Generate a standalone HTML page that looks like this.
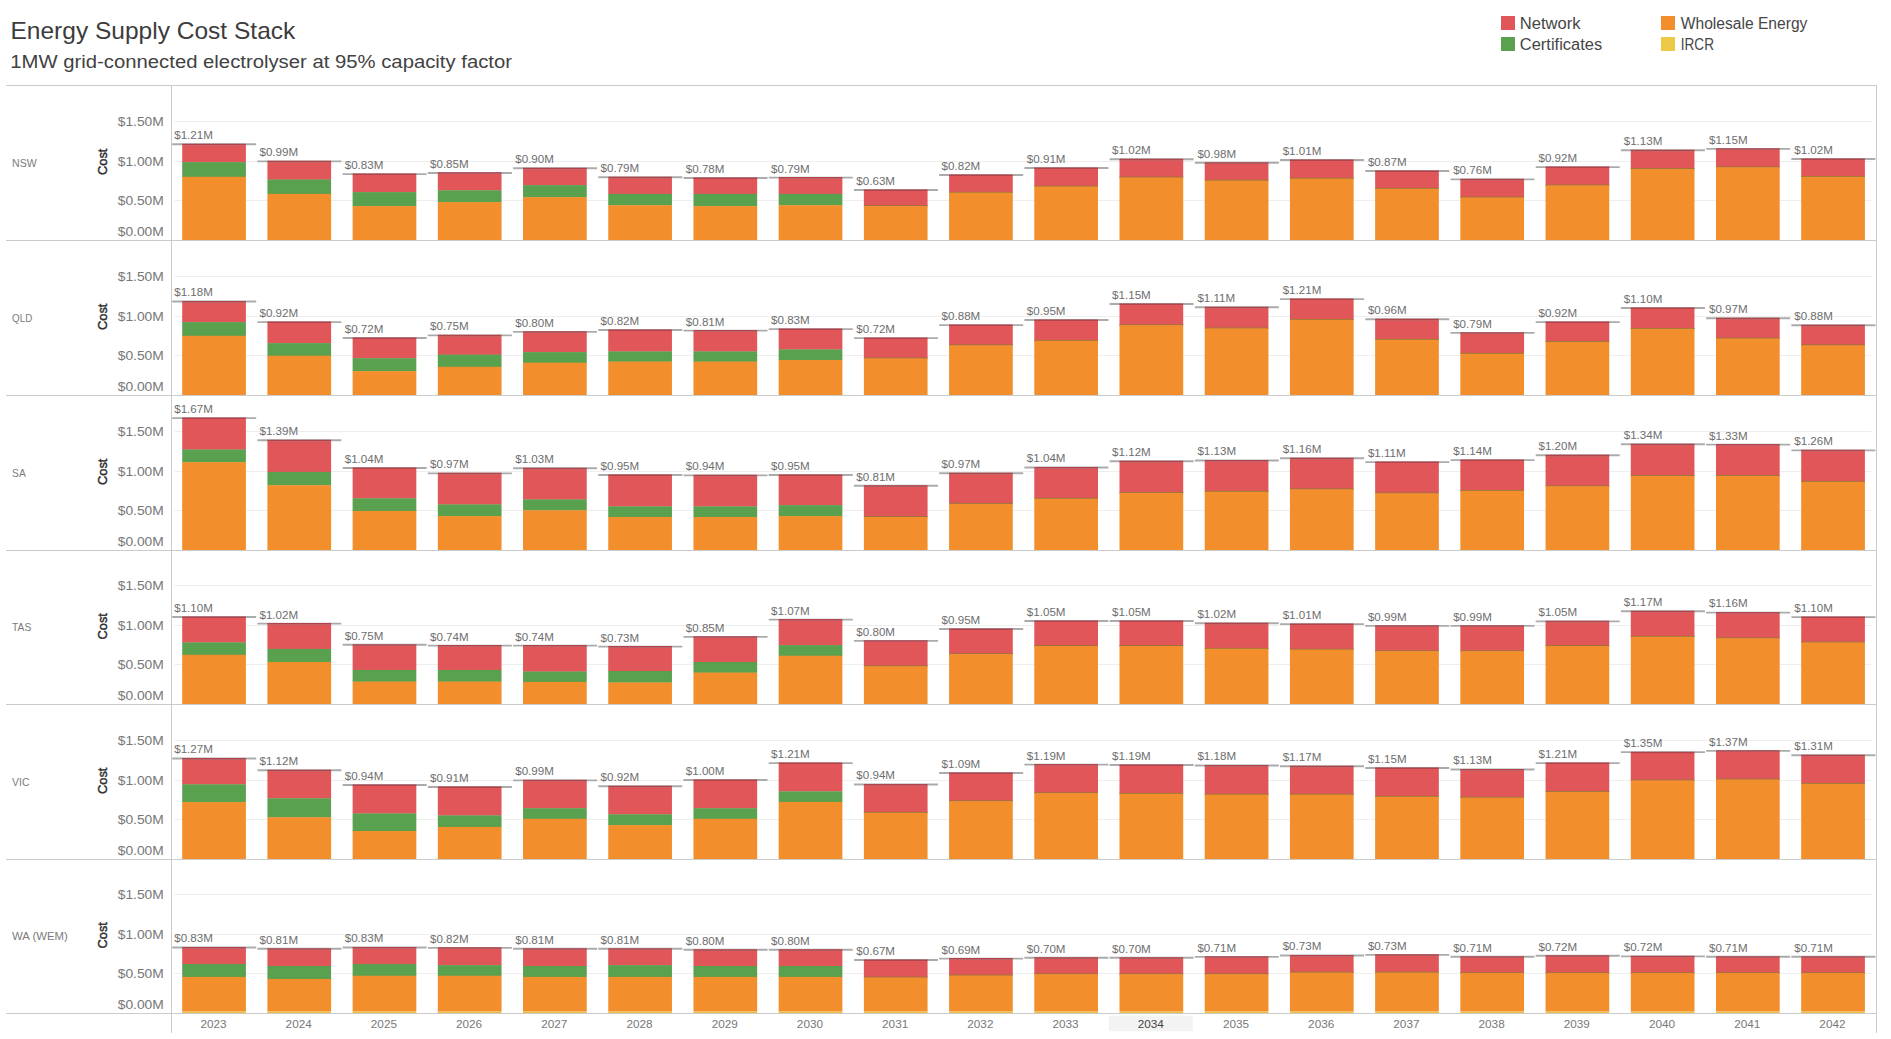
<!DOCTYPE html>
<html lang="en"><head><meta charset="utf-8"><title>Energy Supply Cost Stack</title>
<style>
html,body{margin:0;padding:0;background:#fff;}
body{width:1891px;height:1039px;overflow:hidden;}
svg{display:block;font-family:"Liberation Sans",sans-serif;}
.tick{font-size:13px;fill:#787878;text-anchor:end;}
.lbl{font-size:11.6px;fill:#6e6e6e;}
.row{font-size:10.8px;fill:#7b7b7b;}
.yr{font-size:10.6px;fill:#787878;text-anchor:middle;}
.cost{font-size:13px;fill:#2e2e2e;stroke:#2e2e2e;stroke-width:0.45px;text-anchor:middle;}
.leg{font-size:15.6px;fill:#464646;}
</style></head><body>
<svg width="1891" height="1039" viewBox="0 0 1891 1039">
<rect x="0" y="0" width="1891" height="1039" fill="#ffffff"/>
<g transform="translate(10.5,38.7) scale(1.0575,1)"><text x="0" y="0" font-size="23.2" fill="#3c3c3c">Energy Supply Cost Stack</text></g>
<g transform="translate(10.3,67.5) scale(1.160,1)"><text x="0" y="0" font-size="17.5" fill="#424242">1MW grid-connected electrolyser at 95% capacity factor</text></g>
<rect x="1501" y="16" width="14" height="14" fill="#e15759"/>
<g transform="translate(1519.8,29) scale(1.064,1)"><text class="leg" x="0" y="0">Network</text></g>
<rect x="1501" y="37" width="14" height="14" fill="#59a14f"/>
<g transform="translate(1519.8,50) scale(1.056,1)"><text class="leg" x="0" y="0">Certificates</text></g>
<rect x="1661" y="16" width="14" height="14" fill="#f28e2b"/>
<g transform="translate(1680.8,29) scale(1.0,1)"><text class="leg" x="0" y="0">Wholesale Energy</text></g>
<rect x="1661" y="37" width="14" height="14" fill="#edc948"/>
<g transform="translate(1680.8,50) scale(0.87,1)"><text class="leg" x="0" y="0">IRCR</text></g>
<g stroke="#cbcbcb" stroke-width="1" fill="none">
<line x1="6" y1="85.5" x2="1876.7" y2="85.5"/>
<line x1="6" y1="240.5" x2="1876.7" y2="240.5"/>
<line x1="6" y1="395.5" x2="1876.7" y2="395.5"/>
<line x1="6" y1="550.5" x2="1876.7" y2="550.5"/>
<line x1="6" y1="704.5" x2="1876.7" y2="704.5"/>
<line x1="6" y1="859.5" x2="1876.7" y2="859.5"/>
<line x1="6" y1="1013.5" x2="1876.7" y2="1013.5"/>
<line x1="171.5" y1="85" x2="171.5" y2="1033"/>
<line x1="1876.5" y1="85" x2="1876.5" y2="1033"/>
</g>
<rect x="1108.7" y="1015.5" width="84.2" height="15.8" fill="#f3f3f3"/>
<g stroke="#eeeeee" stroke-width="1">
<line x1="174.6" y1="200.5" x2="1871.8" y2="200.5"/>
<line x1="174.6" y1="161.5" x2="1871.8" y2="161.5"/>
<line x1="174.6" y1="121.5" x2="1871.8" y2="121.5"/>
</g>
<g transform="translate(163.8,126.1) scale(1.065,1)"><text class="tick" x="0" y="0">$1.50M</text></g>
<g transform="translate(163.8,165.6) scale(1.065,1)"><text class="tick" x="0" y="0">$1.00M</text></g>
<g transform="translate(163.8,205.1) scale(1.065,1)"><text class="tick" x="0" y="0">$0.50M</text></g>
<g transform="translate(163.8,235.8) scale(1.065,1)"><text class="tick" x="0" y="0">$0.00M</text></g>
<g transform="translate(12.1,166.7) scale(0.975,1)"><text class="row" x="0" y="0">NSW</text></g>
<text class="cost" transform="translate(107.4,161.8) rotate(-90) scale(0.985,1)">Cost</text>
<rect x="182.2" y="144.35" width="63.7" height="18.05" fill="#e15759"/>
<rect x="182.2" y="162.1" width="63.7" height="15" fill="#59a14f"/>
<rect x="182.2" y="176.8" width="63.7" height="63.2" fill="#f28e2b"/>
<line x1="172.2" y1="144.25" x2="256.2" y2="144.25" stroke="#ababab" stroke-width="1.9"/>
<line x1="182.2" y1="144.45" x2="245.9" y2="144.45" stroke="#b0434c" stroke-width="1.5"/>
<text class="lbl" x="174.2" y="139.16">$1.21M</text>
<rect x="267.41" y="161.5" width="63.7" height="18.3" fill="#e15759"/>
<rect x="267.41" y="179.5" width="63.7" height="14.7" fill="#59a14f"/>
<rect x="267.41" y="193.9" width="63.7" height="46.1" fill="#f28e2b"/>
<line x1="257.42" y1="161.4" x2="341.42" y2="161.4" stroke="#ababab" stroke-width="1.9"/>
<line x1="267.41" y1="161.59" x2="331.11" y2="161.59" stroke="#b0434c" stroke-width="1.5"/>
<text class="lbl" x="259.46" y="156.3">$0.99M</text>
<rect x="352.62" y="174.26" width="63.7" height="18.14" fill="#e15759"/>
<rect x="352.62" y="192.1" width="63.7" height="14.3" fill="#59a14f"/>
<rect x="352.62" y="206.1" width="63.7" height="33.9" fill="#f28e2b"/>
<line x1="342.64" y1="174.16" x2="426.64" y2="174.16" stroke="#ababab" stroke-width="1.9"/>
<line x1="352.62" y1="174.36" x2="416.32" y2="174.36" stroke="#b0434c" stroke-width="1.5"/>
<text class="lbl" x="344.73" y="169.06">$0.83M</text>
<rect x="437.83" y="173.03" width="63.7" height="17.57" fill="#e15759"/>
<rect x="437.83" y="190.3" width="63.7" height="12.1" fill="#59a14f"/>
<rect x="437.83" y="202.1" width="63.7" height="37.9" fill="#f28e2b"/>
<line x1="427.86" y1="172.93" x2="511.86" y2="172.93" stroke="#ababab" stroke-width="1.9"/>
<line x1="437.83" y1="173.12" x2="501.53" y2="173.12" stroke="#b0434c" stroke-width="1.5"/>
<text class="lbl" x="430" y="167.83">$0.85M</text>
<rect x="523.04" y="168.3" width="63.7" height="17.1" fill="#e15759"/>
<rect x="523.04" y="185.1" width="63.7" height="12.3" fill="#59a14f"/>
<rect x="523.04" y="197.1" width="63.7" height="42.9" fill="#f28e2b"/>
<line x1="513.08" y1="168.2" x2="597.08" y2="168.2" stroke="#ababab" stroke-width="1.9"/>
<line x1="523.04" y1="168.4" x2="586.74" y2="168.4" stroke="#b0434c" stroke-width="1.5"/>
<text class="lbl" x="515.26" y="163.1">$0.90M</text>
<rect x="608.25" y="177.39" width="63.7" height="16.81" fill="#e15759"/>
<rect x="608.25" y="193.9" width="63.7" height="11.6" fill="#59a14f"/>
<rect x="608.25" y="205.2" width="63.7" height="34.8" fill="#f28e2b"/>
<line x1="598.3" y1="177.29" x2="682.3" y2="177.29" stroke="#ababab" stroke-width="1.9"/>
<line x1="608.25" y1="177.49" x2="671.95" y2="177.49" stroke="#b0434c" stroke-width="1.5"/>
<text class="lbl" x="600.52" y="172.19">$0.79M</text>
<rect x="693.46" y="178.14" width="63.7" height="16.06" fill="#e15759"/>
<rect x="693.46" y="193.9" width="63.7" height="12.5" fill="#59a14f"/>
<rect x="693.46" y="206.1" width="63.7" height="33.9" fill="#f28e2b"/>
<line x1="683.52" y1="178.04" x2="767.52" y2="178.04" stroke="#ababab" stroke-width="1.9"/>
<line x1="693.46" y1="178.24" x2="757.16" y2="178.24" stroke="#b0434c" stroke-width="1.5"/>
<text class="lbl" x="685.79" y="172.94">$0.78M</text>
<rect x="778.67" y="177.75" width="63.7" height="16.46" fill="#e15759"/>
<rect x="778.67" y="193.9" width="63.7" height="11.6" fill="#59a14f"/>
<rect x="778.67" y="205.2" width="63.7" height="34.8" fill="#f28e2b"/>
<line x1="768.74" y1="177.65" x2="852.74" y2="177.65" stroke="#ababab" stroke-width="1.9"/>
<line x1="778.67" y1="177.84" x2="842.37" y2="177.84" stroke="#b0434c" stroke-width="1.5"/>
<text class="lbl" x="771.06" y="172.55">$0.79M</text>
<rect x="863.88" y="190.16" width="63.7" height="16.24" fill="#e15759"/>
<rect x="863.88" y="205.3" width="63.7" height="1.2" fill="#93783a"/>
<rect x="863.88" y="206.1" width="63.7" height="33.9" fill="#f28e2b"/>
<line x1="853.96" y1="190.06" x2="937.96" y2="190.06" stroke="#ababab" stroke-width="1.9"/>
<line x1="863.88" y1="190.26" x2="927.58" y2="190.26" stroke="#b0434c" stroke-width="1.5"/>
<text class="lbl" x="856.32" y="184.97">$0.63M</text>
<rect x="949.09" y="175.11" width="63.7" height="17.79" fill="#e15759"/>
<rect x="949.09" y="191.8" width="63.7" height="1.2" fill="#93783a"/>
<rect x="949.09" y="192.6" width="63.7" height="47.4" fill="#f28e2b"/>
<line x1="939.18" y1="175.01" x2="1023.18" y2="175.01" stroke="#ababab" stroke-width="1.9"/>
<line x1="949.09" y1="175.21" x2="1012.79" y2="175.21" stroke="#b0434c" stroke-width="1.5"/>
<text class="lbl" x="941.59" y="169.91">$0.82M</text>
<rect x="1034.3" y="168.06" width="63.7" height="18.74" fill="#e15759"/>
<rect x="1034.3" y="185.7" width="63.7" height="1.2" fill="#93783a"/>
<rect x="1034.3" y="186.5" width="63.7" height="53.5" fill="#f28e2b"/>
<line x1="1024.4" y1="167.96" x2="1108.4" y2="167.96" stroke="#ababab" stroke-width="1.9"/>
<line x1="1034.3" y1="168.16" x2="1098" y2="168.16" stroke="#b0434c" stroke-width="1.5"/>
<text class="lbl" x="1026.85" y="162.86">$0.91M</text>
<rect x="1119.51" y="159.31" width="63.7" height="18.49" fill="#e15759"/>
<rect x="1119.51" y="176.7" width="63.7" height="1.2" fill="#93783a"/>
<rect x="1119.51" y="177.5" width="63.7" height="62.5" fill="#f28e2b"/>
<line x1="1109.62" y1="159.21" x2="1193.62" y2="159.21" stroke="#ababab" stroke-width="1.9"/>
<line x1="1119.51" y1="159.41" x2="1183.21" y2="159.41" stroke="#b0434c" stroke-width="1.5"/>
<text class="lbl" x="1112.12" y="154.11">$1.02M</text>
<rect x="1204.72" y="162.89" width="63.7" height="18.01" fill="#e15759"/>
<rect x="1204.72" y="179.8" width="63.7" height="1.2" fill="#93783a"/>
<rect x="1204.72" y="180.6" width="63.7" height="59.4" fill="#f28e2b"/>
<line x1="1194.84" y1="162.79" x2="1278.84" y2="162.79" stroke="#ababab" stroke-width="1.9"/>
<line x1="1204.72" y1="162.99" x2="1268.42" y2="162.99" stroke="#b0434c" stroke-width="1.5"/>
<text class="lbl" x="1197.38" y="157.69">$0.98M</text>
<rect x="1289.93" y="160.16" width="63.7" height="18.75" fill="#e15759"/>
<rect x="1289.93" y="177.8" width="63.7" height="1.2" fill="#93783a"/>
<rect x="1289.93" y="178.6" width="63.7" height="61.4" fill="#f28e2b"/>
<line x1="1280.06" y1="160.06" x2="1364.06" y2="160.06" stroke="#ababab" stroke-width="1.9"/>
<line x1="1289.93" y1="160.25" x2="1353.63" y2="160.25" stroke="#b0434c" stroke-width="1.5"/>
<text class="lbl" x="1282.64" y="154.96">$1.01M</text>
<rect x="1375.14" y="171.09" width="63.7" height="17.91" fill="#e15759"/>
<rect x="1375.14" y="187.9" width="63.7" height="1.2" fill="#93783a"/>
<rect x="1375.14" y="188.7" width="63.7" height="51.3" fill="#f28e2b"/>
<line x1="1365.28" y1="170.99" x2="1449.28" y2="170.99" stroke="#ababab" stroke-width="1.9"/>
<line x1="1375.14" y1="171.19" x2="1438.84" y2="171.19" stroke="#b0434c" stroke-width="1.5"/>
<text class="lbl" x="1367.91" y="165.89">$0.87M</text>
<rect x="1460.35" y="179.48" width="63.7" height="18.32" fill="#e15759"/>
<rect x="1460.35" y="196.7" width="63.7" height="1.2" fill="#93783a"/>
<rect x="1460.35" y="197.5" width="63.7" height="42.5" fill="#f28e2b"/>
<line x1="1450.5" y1="179.38" x2="1534.5" y2="179.38" stroke="#ababab" stroke-width="1.9"/>
<line x1="1460.35" y1="179.58" x2="1524.05" y2="179.58" stroke="#b0434c" stroke-width="1.5"/>
<text class="lbl" x="1453.17" y="174.28">$0.76M</text>
<rect x="1545.56" y="167.21" width="63.7" height="18.49" fill="#e15759"/>
<rect x="1545.56" y="184.6" width="63.7" height="1.2" fill="#93783a"/>
<rect x="1545.56" y="185.4" width="63.7" height="54.6" fill="#f28e2b"/>
<line x1="1535.72" y1="167.11" x2="1619.72" y2="167.11" stroke="#ababab" stroke-width="1.9"/>
<line x1="1545.56" y1="167.31" x2="1609.26" y2="167.31" stroke="#b0434c" stroke-width="1.5"/>
<text class="lbl" x="1538.44" y="162.01">$0.92M</text>
<rect x="1630.77" y="150.31" width="63.7" height="18.89" fill="#e15759"/>
<rect x="1630.77" y="168.1" width="63.7" height="1.2" fill="#93783a"/>
<rect x="1630.77" y="168.9" width="63.7" height="71.1" fill="#f28e2b"/>
<line x1="1620.94" y1="150.22" x2="1704.94" y2="150.22" stroke="#ababab" stroke-width="1.9"/>
<line x1="1630.77" y1="150.41" x2="1694.47" y2="150.41" stroke="#b0434c" stroke-width="1.5"/>
<text class="lbl" x="1623.71" y="145.12">$1.13M</text>
<rect x="1715.98" y="148.97" width="63.7" height="18.63" fill="#e15759"/>
<rect x="1715.98" y="166.5" width="63.7" height="1.2" fill="#93783a"/>
<rect x="1715.98" y="167.3" width="63.7" height="72.7" fill="#f28e2b"/>
<line x1="1706.16" y1="148.88" x2="1790.16" y2="148.88" stroke="#ababab" stroke-width="1.9"/>
<line x1="1715.98" y1="149.07" x2="1779.68" y2="149.07" stroke="#b0434c" stroke-width="1.5"/>
<text class="lbl" x="1708.97" y="143.78">$1.15M</text>
<rect x="1801.19" y="159.16" width="63.7" height="17.94" fill="#e15759"/>
<rect x="1801.19" y="176" width="63.7" height="1.2" fill="#93783a"/>
<rect x="1801.19" y="176.8" width="63.7" height="63.2" fill="#f28e2b"/>
<line x1="1791.38" y1="159.06" x2="1875.38" y2="159.06" stroke="#ababab" stroke-width="1.9"/>
<line x1="1801.19" y1="159.26" x2="1864.89" y2="159.26" stroke="#b0434c" stroke-width="1.5"/>
<text class="lbl" x="1794.24" y="153.96">$1.02M</text>
<g stroke="#eeeeee" stroke-width="1">
<line x1="174.6" y1="355.5" x2="1871.8" y2="355.5"/>
<line x1="174.6" y1="316.5" x2="1871.8" y2="316.5"/>
<line x1="174.6" y1="276.5" x2="1871.8" y2="276.5"/>
</g>
<g transform="translate(163.8,281.1) scale(1.065,1)"><text class="tick" x="0" y="0">$1.50M</text></g>
<g transform="translate(163.8,320.6) scale(1.065,1)"><text class="tick" x="0" y="0">$1.00M</text></g>
<g transform="translate(163.8,360.1) scale(1.065,1)"><text class="tick" x="0" y="0">$0.50M</text></g>
<g transform="translate(163.8,390.8) scale(1.065,1)"><text class="tick" x="0" y="0">$0.00M</text></g>
<g transform="translate(12.1,321.7) scale(0.91,1)"><text class="row" x="0" y="0">QLD</text></g>
<text class="cost" transform="translate(107.4,316.8) rotate(-90) scale(0.985,1)">Cost</text>
<rect x="182.2" y="301.54" width="63.7" height="20.86" fill="#e15759"/>
<rect x="182.2" y="322.1" width="63.7" height="14" fill="#59a14f"/>
<rect x="182.2" y="335.8" width="63.7" height="59.2" fill="#f28e2b"/>
<line x1="172.2" y1="301.44" x2="256.2" y2="301.44" stroke="#ababab" stroke-width="1.9"/>
<line x1="182.2" y1="301.64" x2="245.9" y2="301.64" stroke="#b0434c" stroke-width="1.5"/>
<text class="lbl" x="174.2" y="296.34">$1.18M</text>
<rect x="267.41" y="322.21" width="63.7" height="21.19" fill="#e15759"/>
<rect x="267.41" y="343.1" width="63.7" height="12.9" fill="#59a14f"/>
<rect x="267.41" y="355.7" width="63.7" height="39.3" fill="#f28e2b"/>
<line x1="257.42" y1="322.11" x2="341.42" y2="322.11" stroke="#ababab" stroke-width="1.9"/>
<line x1="267.41" y1="322.31" x2="331.11" y2="322.31" stroke="#b0434c" stroke-width="1.5"/>
<text class="lbl" x="259.46" y="317.01">$0.92M</text>
<rect x="352.62" y="338.11" width="63.7" height="20.39" fill="#e15759"/>
<rect x="352.62" y="358.2" width="63.7" height="13.2" fill="#59a14f"/>
<rect x="352.62" y="371.1" width="63.7" height="23.9" fill="#f28e2b"/>
<line x1="342.64" y1="338.01" x2="426.64" y2="338.01" stroke="#ababab" stroke-width="1.9"/>
<line x1="352.62" y1="338.21" x2="416.32" y2="338.21" stroke="#b0434c" stroke-width="1.5"/>
<text class="lbl" x="344.73" y="332.91">$0.72M</text>
<rect x="437.83" y="335.48" width="63.7" height="19.43" fill="#e15759"/>
<rect x="437.83" y="354.6" width="63.7" height="12.5" fill="#59a14f"/>
<rect x="437.83" y="366.8" width="63.7" height="28.2" fill="#f28e2b"/>
<line x1="427.86" y1="335.38" x2="511.86" y2="335.38" stroke="#ababab" stroke-width="1.9"/>
<line x1="437.83" y1="335.57" x2="501.53" y2="335.57" stroke="#b0434c" stroke-width="1.5"/>
<text class="lbl" x="430" y="330.27">$0.75M</text>
<rect x="523.04" y="332" width="63.7" height="20.4" fill="#e15759"/>
<rect x="523.04" y="352.1" width="63.7" height="10.9" fill="#59a14f"/>
<rect x="523.04" y="362.7" width="63.7" height="32.3" fill="#f28e2b"/>
<line x1="513.08" y1="331.9" x2="597.08" y2="331.9" stroke="#ababab" stroke-width="1.9"/>
<line x1="523.04" y1="332.1" x2="586.74" y2="332.1" stroke="#b0434c" stroke-width="1.5"/>
<text class="lbl" x="515.26" y="326.8">$0.80M</text>
<rect x="608.25" y="330.11" width="63.7" height="21.59" fill="#e15759"/>
<rect x="608.25" y="351.4" width="63.7" height="10.5" fill="#59a14f"/>
<rect x="608.25" y="361.6" width="63.7" height="33.4" fill="#f28e2b"/>
<line x1="598.3" y1="330.01" x2="682.3" y2="330.01" stroke="#ababab" stroke-width="1.9"/>
<line x1="608.25" y1="330.21" x2="671.95" y2="330.21" stroke="#b0434c" stroke-width="1.5"/>
<text class="lbl" x="600.52" y="324.91">$0.82M</text>
<rect x="693.46" y="330.7" width="63.7" height="21" fill="#e15759"/>
<rect x="693.46" y="351.4" width="63.7" height="10.5" fill="#59a14f"/>
<rect x="693.46" y="361.6" width="63.7" height="33.4" fill="#f28e2b"/>
<line x1="683.52" y1="330.6" x2="767.52" y2="330.6" stroke="#ababab" stroke-width="1.9"/>
<line x1="693.46" y1="330.8" x2="757.16" y2="330.8" stroke="#b0434c" stroke-width="1.5"/>
<text class="lbl" x="685.79" y="325.5">$0.81M</text>
<rect x="778.67" y="329.26" width="63.7" height="20.43" fill="#e15759"/>
<rect x="778.67" y="349.4" width="63.7" height="10.9" fill="#59a14f"/>
<rect x="778.67" y="360" width="63.7" height="35" fill="#f28e2b"/>
<line x1="768.74" y1="329.16" x2="852.74" y2="329.16" stroke="#ababab" stroke-width="1.9"/>
<line x1="778.67" y1="329.36" x2="842.37" y2="329.36" stroke="#b0434c" stroke-width="1.5"/>
<text class="lbl" x="771.06" y="324.06">$0.83M</text>
<rect x="863.88" y="338.21" width="63.7" height="20.49" fill="#e15759"/>
<rect x="863.88" y="357.6" width="63.7" height="1.2" fill="#93783a"/>
<rect x="863.88" y="358.4" width="63.7" height="36.6" fill="#f28e2b"/>
<line x1="853.96" y1="338.11" x2="937.96" y2="338.11" stroke="#ababab" stroke-width="1.9"/>
<line x1="863.88" y1="338.31" x2="927.58" y2="338.31" stroke="#b0434c" stroke-width="1.5"/>
<text class="lbl" x="856.32" y="333.01">$0.72M</text>
<rect x="949.09" y="325.24" width="63.7" height="20.36" fill="#e15759"/>
<rect x="949.09" y="344.5" width="63.7" height="1.2" fill="#93783a"/>
<rect x="949.09" y="345.3" width="63.7" height="49.7" fill="#f28e2b"/>
<line x1="939.18" y1="325.14" x2="1023.18" y2="325.14" stroke="#ababab" stroke-width="1.9"/>
<line x1="949.09" y1="325.34" x2="1012.79" y2="325.34" stroke="#b0434c" stroke-width="1.5"/>
<text class="lbl" x="941.59" y="320.04">$0.88M</text>
<rect x="1034.3" y="320.12" width="63.7" height="20.97" fill="#e15759"/>
<rect x="1034.3" y="340" width="63.7" height="1.2" fill="#93783a"/>
<rect x="1034.3" y="340.8" width="63.7" height="54.2" fill="#f28e2b"/>
<line x1="1024.4" y1="320.02" x2="1108.4" y2="320.02" stroke="#ababab" stroke-width="1.9"/>
<line x1="1034.3" y1="320.22" x2="1098" y2="320.22" stroke="#b0434c" stroke-width="1.5"/>
<text class="lbl" x="1026.85" y="314.92">$0.95M</text>
<rect x="1119.51" y="304.07" width="63.7" height="21.43" fill="#e15759"/>
<rect x="1119.51" y="324.4" width="63.7" height="1.2" fill="#93783a"/>
<rect x="1119.51" y="325.2" width="63.7" height="69.8" fill="#f28e2b"/>
<line x1="1109.62" y1="303.97" x2="1193.62" y2="303.97" stroke="#ababab" stroke-width="1.9"/>
<line x1="1119.51" y1="304.17" x2="1183.21" y2="304.17" stroke="#b0434c" stroke-width="1.5"/>
<text class="lbl" x="1112.12" y="298.87">$1.15M</text>
<rect x="1204.72" y="307.36" width="63.7" height="21.35" fill="#e15759"/>
<rect x="1204.72" y="327.6" width="63.7" height="1.2" fill="#93783a"/>
<rect x="1204.72" y="328.4" width="63.7" height="66.6" fill="#f28e2b"/>
<line x1="1194.84" y1="307.25" x2="1278.84" y2="307.25" stroke="#ababab" stroke-width="1.9"/>
<line x1="1204.72" y1="307.45" x2="1268.42" y2="307.45" stroke="#b0434c" stroke-width="1.5"/>
<text class="lbl" x="1197.38" y="302.15">$1.11M</text>
<rect x="1289.93" y="299.2" width="63.7" height="20.89" fill="#e15759"/>
<rect x="1289.93" y="319" width="63.7" height="1.2" fill="#93783a"/>
<rect x="1289.93" y="319.8" width="63.7" height="75.2" fill="#f28e2b"/>
<line x1="1280.06" y1="299.1" x2="1364.06" y2="299.1" stroke="#ababab" stroke-width="1.9"/>
<line x1="1289.93" y1="299.3" x2="1353.63" y2="299.3" stroke="#b0434c" stroke-width="1.5"/>
<text class="lbl" x="1282.64" y="294">$1.21M</text>
<rect x="1375.14" y="319.28" width="63.7" height="20.72" fill="#e15759"/>
<rect x="1375.14" y="338.9" width="63.7" height="1.2" fill="#93783a"/>
<rect x="1375.14" y="339.7" width="63.7" height="55.3" fill="#f28e2b"/>
<line x1="1365.28" y1="319.18" x2="1449.28" y2="319.18" stroke="#ababab" stroke-width="1.9"/>
<line x1="1375.14" y1="319.38" x2="1438.84" y2="319.38" stroke="#b0434c" stroke-width="1.5"/>
<text class="lbl" x="1367.91" y="314.08">$0.96M</text>
<rect x="1460.35" y="333" width="63.7" height="21.01" fill="#e15759"/>
<rect x="1460.35" y="352.9" width="63.7" height="1.2" fill="#93783a"/>
<rect x="1460.35" y="353.7" width="63.7" height="41.3" fill="#f28e2b"/>
<line x1="1450.5" y1="332.89" x2="1534.5" y2="332.89" stroke="#ababab" stroke-width="1.9"/>
<line x1="1460.35" y1="333.09" x2="1524.05" y2="333.09" stroke="#b0434c" stroke-width="1.5"/>
<text class="lbl" x="1453.17" y="327.79">$0.79M</text>
<rect x="1545.56" y="322.21" width="63.7" height="19.99" fill="#e15759"/>
<rect x="1545.56" y="341.1" width="63.7" height="1.2" fill="#93783a"/>
<rect x="1545.56" y="341.9" width="63.7" height="53.1" fill="#f28e2b"/>
<line x1="1535.72" y1="322.11" x2="1619.72" y2="322.11" stroke="#ababab" stroke-width="1.9"/>
<line x1="1545.56" y1="322.31" x2="1609.26" y2="322.31" stroke="#b0434c" stroke-width="1.5"/>
<text class="lbl" x="1538.44" y="317.01">$0.92M</text>
<rect x="1630.77" y="308.1" width="63.7" height="21" fill="#e15759"/>
<rect x="1630.77" y="328" width="63.7" height="1.2" fill="#93783a"/>
<rect x="1630.77" y="328.8" width="63.7" height="66.2" fill="#f28e2b"/>
<line x1="1620.94" y1="308" x2="1704.94" y2="308" stroke="#ababab" stroke-width="1.9"/>
<line x1="1630.77" y1="308.2" x2="1694.47" y2="308.2" stroke="#b0434c" stroke-width="1.5"/>
<text class="lbl" x="1623.71" y="302.9">$1.10M</text>
<rect x="1715.98" y="318.28" width="63.7" height="20.52" fill="#e15759"/>
<rect x="1715.98" y="337.7" width="63.7" height="1.2" fill="#93783a"/>
<rect x="1715.98" y="338.5" width="63.7" height="56.5" fill="#f28e2b"/>
<line x1="1706.16" y1="318.18" x2="1790.16" y2="318.18" stroke="#ababab" stroke-width="1.9"/>
<line x1="1715.98" y1="318.38" x2="1779.68" y2="318.38" stroke="#b0434c" stroke-width="1.5"/>
<text class="lbl" x="1708.97" y="313.08">$0.97M</text>
<rect x="1801.19" y="325.34" width="63.7" height="20.26" fill="#e15759"/>
<rect x="1801.19" y="344.5" width="63.7" height="1.2" fill="#93783a"/>
<rect x="1801.19" y="345.3" width="63.7" height="49.7" fill="#f28e2b"/>
<line x1="1791.38" y1="325.24" x2="1875.38" y2="325.24" stroke="#ababab" stroke-width="1.9"/>
<line x1="1801.19" y1="325.44" x2="1864.89" y2="325.44" stroke="#b0434c" stroke-width="1.5"/>
<text class="lbl" x="1794.24" y="320.14">$0.88M</text>
<g stroke="#eeeeee" stroke-width="1">
<line x1="174.6" y1="510.5" x2="1871.8" y2="510.5"/>
<line x1="174.6" y1="471.5" x2="1871.8" y2="471.5"/>
<line x1="174.6" y1="431.5" x2="1871.8" y2="431.5"/>
</g>
<g transform="translate(163.8,436.1) scale(1.065,1)"><text class="tick" x="0" y="0">$1.50M</text></g>
<g transform="translate(163.8,475.6) scale(1.065,1)"><text class="tick" x="0" y="0">$1.00M</text></g>
<g transform="translate(163.8,515.1) scale(1.065,1)"><text class="tick" x="0" y="0">$0.50M</text></g>
<g transform="translate(163.8,545.8) scale(1.065,1)"><text class="tick" x="0" y="0">$0.00M</text></g>
<g transform="translate(12.1,476.7) scale(0.95,1)"><text class="row" x="0" y="0">SA</text></g>
<text class="cost" transform="translate(107.4,471.8) rotate(-90) scale(0.985,1)">Cost</text>
<rect x="182.2" y="418.24" width="63.7" height="31.56" fill="#e15759"/>
<rect x="182.2" y="449.5" width="63.7" height="13" fill="#59a14f"/>
<rect x="182.2" y="462.2" width="63.7" height="87.8" fill="#f28e2b"/>
<line x1="172.2" y1="418.13" x2="256.2" y2="418.13" stroke="#ababab" stroke-width="1.9"/>
<line x1="182.2" y1="418.33" x2="245.9" y2="418.33" stroke="#b0434c" stroke-width="1.5"/>
<text class="lbl" x="174.2" y="413.03">$1.67M</text>
<rect x="267.41" y="440.35" width="63.7" height="31.86" fill="#e15759"/>
<rect x="267.41" y="471.9" width="63.7" height="13.6" fill="#59a14f"/>
<rect x="267.41" y="485.2" width="63.7" height="64.8" fill="#f28e2b"/>
<line x1="257.42" y1="440.25" x2="341.42" y2="440.25" stroke="#ababab" stroke-width="1.9"/>
<line x1="267.41" y1="440.44" x2="331.11" y2="440.44" stroke="#b0434c" stroke-width="1.5"/>
<text class="lbl" x="259.46" y="435.14">$1.39M</text>
<rect x="352.62" y="468.07" width="63.7" height="30.53" fill="#e15759"/>
<rect x="352.62" y="498.3" width="63.7" height="12.9" fill="#59a14f"/>
<rect x="352.62" y="510.9" width="63.7" height="39.1" fill="#f28e2b"/>
<line x1="342.64" y1="467.97" x2="426.64" y2="467.97" stroke="#ababab" stroke-width="1.9"/>
<line x1="352.62" y1="468.17" x2="416.32" y2="468.17" stroke="#b0434c" stroke-width="1.5"/>
<text class="lbl" x="344.73" y="462.87">$1.04M</text>
<rect x="437.83" y="473.44" width="63.7" height="31.26" fill="#e15759"/>
<rect x="437.83" y="504.4" width="63.7" height="12" fill="#59a14f"/>
<rect x="437.83" y="516.1" width="63.7" height="33.9" fill="#f28e2b"/>
<line x1="427.86" y1="473.33" x2="511.86" y2="473.33" stroke="#ababab" stroke-width="1.9"/>
<line x1="437.83" y1="473.53" x2="501.53" y2="473.53" stroke="#b0434c" stroke-width="1.5"/>
<text class="lbl" x="430" y="468.23">$0.97M</text>
<rect x="523.04" y="468.31" width="63.7" height="31.39" fill="#e15759"/>
<rect x="523.04" y="499.4" width="63.7" height="11.2" fill="#59a14f"/>
<rect x="523.04" y="510.3" width="63.7" height="39.7" fill="#f28e2b"/>
<line x1="513.08" y1="468.21" x2="597.08" y2="468.21" stroke="#ababab" stroke-width="1.9"/>
<line x1="523.04" y1="468.41" x2="586.74" y2="468.41" stroke="#b0434c" stroke-width="1.5"/>
<text class="lbl" x="515.26" y="463.11">$1.03M</text>
<rect x="608.25" y="475.12" width="63.7" height="31.57" fill="#e15759"/>
<rect x="608.25" y="506.4" width="63.7" height="10.9" fill="#59a14f"/>
<rect x="608.25" y="517" width="63.7" height="33" fill="#f28e2b"/>
<line x1="598.3" y1="475.02" x2="682.3" y2="475.02" stroke="#ababab" stroke-width="1.9"/>
<line x1="608.25" y1="475.22" x2="671.95" y2="475.22" stroke="#b0434c" stroke-width="1.5"/>
<text class="lbl" x="600.52" y="469.92">$0.95M</text>
<rect x="693.46" y="475.52" width="63.7" height="31.18" fill="#e15759"/>
<rect x="693.46" y="506.4" width="63.7" height="10.9" fill="#59a14f"/>
<rect x="693.46" y="517" width="63.7" height="33" fill="#f28e2b"/>
<line x1="683.52" y1="475.42" x2="767.52" y2="475.42" stroke="#ababab" stroke-width="1.9"/>
<line x1="693.46" y1="475.62" x2="757.16" y2="475.62" stroke="#b0434c" stroke-width="1.5"/>
<text class="lbl" x="685.79" y="470.32">$0.94M</text>
<rect x="778.67" y="475.12" width="63.7" height="30.28" fill="#e15759"/>
<rect x="778.67" y="505.1" width="63.7" height="11.3" fill="#59a14f"/>
<rect x="778.67" y="516.1" width="63.7" height="33.9" fill="#f28e2b"/>
<line x1="768.74" y1="475.02" x2="852.74" y2="475.02" stroke="#ababab" stroke-width="1.9"/>
<line x1="778.67" y1="475.22" x2="842.37" y2="475.22" stroke="#b0434c" stroke-width="1.5"/>
<text class="lbl" x="771.06" y="469.92">$0.95M</text>
<rect x="863.88" y="485.81" width="63.7" height="31.5" fill="#e15759"/>
<rect x="863.88" y="516.2" width="63.7" height="1.2" fill="#93783a"/>
<rect x="863.88" y="517" width="63.7" height="33" fill="#f28e2b"/>
<line x1="853.96" y1="485.7" x2="937.96" y2="485.7" stroke="#ababab" stroke-width="1.9"/>
<line x1="863.88" y1="485.9" x2="927.58" y2="485.9" stroke="#b0434c" stroke-width="1.5"/>
<text class="lbl" x="856.32" y="480.6">$0.81M</text>
<rect x="949.09" y="473.28" width="63.7" height="30.92" fill="#e15759"/>
<rect x="949.09" y="503.1" width="63.7" height="1.2" fill="#93783a"/>
<rect x="949.09" y="503.9" width="63.7" height="46.1" fill="#f28e2b"/>
<line x1="939.18" y1="473.18" x2="1023.18" y2="473.18" stroke="#ababab" stroke-width="1.9"/>
<line x1="949.09" y1="473.38" x2="1012.79" y2="473.38" stroke="#b0434c" stroke-width="1.5"/>
<text class="lbl" x="941.59" y="468.08">$0.97M</text>
<rect x="1034.3" y="467.62" width="63.7" height="31.38" fill="#e15759"/>
<rect x="1034.3" y="497.9" width="63.7" height="1.2" fill="#93783a"/>
<rect x="1034.3" y="498.7" width="63.7" height="51.3" fill="#f28e2b"/>
<line x1="1024.4" y1="467.52" x2="1108.4" y2="467.52" stroke="#ababab" stroke-width="1.9"/>
<line x1="1034.3" y1="467.72" x2="1098" y2="467.72" stroke="#b0434c" stroke-width="1.5"/>
<text class="lbl" x="1026.85" y="462.42">$1.04M</text>
<rect x="1119.51" y="461.41" width="63.7" height="31.79" fill="#e15759"/>
<rect x="1119.51" y="492.1" width="63.7" height="1.2" fill="#93783a"/>
<rect x="1119.51" y="492.9" width="63.7" height="57.1" fill="#f28e2b"/>
<line x1="1109.62" y1="461.31" x2="1193.62" y2="461.31" stroke="#ababab" stroke-width="1.9"/>
<line x1="1119.51" y1="461.51" x2="1183.21" y2="461.51" stroke="#b0434c" stroke-width="1.5"/>
<text class="lbl" x="1112.12" y="456.21">$1.12M</text>
<rect x="1204.72" y="460.56" width="63.7" height="31.44" fill="#e15759"/>
<rect x="1204.72" y="490.9" width="63.7" height="1.2" fill="#93783a"/>
<rect x="1204.72" y="491.7" width="63.7" height="58.3" fill="#f28e2b"/>
<line x1="1194.84" y1="460.46" x2="1278.84" y2="460.46" stroke="#ababab" stroke-width="1.9"/>
<line x1="1204.72" y1="460.66" x2="1268.42" y2="460.66" stroke="#b0434c" stroke-width="1.5"/>
<text class="lbl" x="1197.38" y="455.36">$1.13M</text>
<rect x="1289.93" y="458.33" width="63.7" height="31.27" fill="#e15759"/>
<rect x="1289.93" y="488.5" width="63.7" height="1.2" fill="#93783a"/>
<rect x="1289.93" y="489.3" width="63.7" height="60.7" fill="#f28e2b"/>
<line x1="1280.06" y1="458.23" x2="1364.06" y2="458.23" stroke="#ababab" stroke-width="1.9"/>
<line x1="1289.93" y1="458.43" x2="1353.63" y2="458.43" stroke="#b0434c" stroke-width="1.5"/>
<text class="lbl" x="1282.64" y="453.13">$1.16M</text>
<rect x="1375.14" y="462.25" width="63.7" height="31.35" fill="#e15759"/>
<rect x="1375.14" y="492.5" width="63.7" height="1.2" fill="#93783a"/>
<rect x="1375.14" y="493.3" width="63.7" height="56.7" fill="#f28e2b"/>
<line x1="1365.28" y1="462.15" x2="1449.28" y2="462.15" stroke="#ababab" stroke-width="1.9"/>
<line x1="1375.14" y1="462.35" x2="1438.84" y2="462.35" stroke="#b0434c" stroke-width="1.5"/>
<text class="lbl" x="1367.91" y="457.05">$1.11M</text>
<rect x="1460.35" y="460.27" width="63.7" height="30.83" fill="#e15759"/>
<rect x="1460.35" y="490" width="63.7" height="1.2" fill="#93783a"/>
<rect x="1460.35" y="490.8" width="63.7" height="59.2" fill="#f28e2b"/>
<line x1="1450.5" y1="460.17" x2="1534.5" y2="460.17" stroke="#ababab" stroke-width="1.9"/>
<line x1="1460.35" y1="460.37" x2="1524.05" y2="460.37" stroke="#b0434c" stroke-width="1.5"/>
<text class="lbl" x="1453.17" y="455.07">$1.14M</text>
<rect x="1545.56" y="455.3" width="63.7" height="31.3" fill="#e15759"/>
<rect x="1545.56" y="485.5" width="63.7" height="1.2" fill="#93783a"/>
<rect x="1545.56" y="486.3" width="63.7" height="63.7" fill="#f28e2b"/>
<line x1="1535.72" y1="455.2" x2="1619.72" y2="455.2" stroke="#ababab" stroke-width="1.9"/>
<line x1="1545.56" y1="455.4" x2="1609.26" y2="455.4" stroke="#b0434c" stroke-width="1.5"/>
<text class="lbl" x="1538.44" y="450.1">$1.20M</text>
<rect x="1630.77" y="444.32" width="63.7" height="31.88" fill="#e15759"/>
<rect x="1630.77" y="475.1" width="63.7" height="1.2" fill="#93783a"/>
<rect x="1630.77" y="475.9" width="63.7" height="74.1" fill="#f28e2b"/>
<line x1="1620.94" y1="444.22" x2="1704.94" y2="444.22" stroke="#ababab" stroke-width="1.9"/>
<line x1="1630.77" y1="444.42" x2="1694.47" y2="444.42" stroke="#b0434c" stroke-width="1.5"/>
<text class="lbl" x="1623.71" y="439.12">$1.34M</text>
<rect x="1715.98" y="444.72" width="63.7" height="31.49" fill="#e15759"/>
<rect x="1715.98" y="475.1" width="63.7" height="1.2" fill="#93783a"/>
<rect x="1715.98" y="475.9" width="63.7" height="74.1" fill="#f28e2b"/>
<line x1="1706.16" y1="444.62" x2="1790.16" y2="444.62" stroke="#ababab" stroke-width="1.9"/>
<line x1="1715.98" y1="444.81" x2="1779.68" y2="444.81" stroke="#b0434c" stroke-width="1.5"/>
<text class="lbl" x="1708.97" y="439.51">$1.33M</text>
<rect x="1801.19" y="450.43" width="63.7" height="31.67" fill="#e15759"/>
<rect x="1801.19" y="481" width="63.7" height="1.2" fill="#93783a"/>
<rect x="1801.19" y="481.8" width="63.7" height="68.2" fill="#f28e2b"/>
<line x1="1791.38" y1="450.33" x2="1875.38" y2="450.33" stroke="#ababab" stroke-width="1.9"/>
<line x1="1801.19" y1="450.53" x2="1864.89" y2="450.53" stroke="#b0434c" stroke-width="1.5"/>
<text class="lbl" x="1794.24" y="445.23">$1.26M</text>
<g stroke="#eeeeee" stroke-width="1">
<line x1="174.6" y1="664.5" x2="1871.8" y2="664.5"/>
<line x1="174.6" y1="625.5" x2="1871.8" y2="625.5"/>
<line x1="174.6" y1="585.5" x2="1871.8" y2="585.5"/>
</g>
<g transform="translate(163.8,590.1) scale(1.065,1)"><text class="tick" x="0" y="0">$1.50M</text></g>
<g transform="translate(163.8,629.6) scale(1.065,1)"><text class="tick" x="0" y="0">$1.00M</text></g>
<g transform="translate(163.8,669.1) scale(1.065,1)"><text class="tick" x="0" y="0">$0.50M</text></g>
<g transform="translate(163.8,699.8) scale(1.065,1)"><text class="tick" x="0" y="0">$0.00M</text></g>
<g transform="translate(12.1,631.2) scale(0.95,1)"><text class="row" x="0" y="0">TAS</text></g>
<text class="cost" transform="translate(107.4,626.3) rotate(-90) scale(0.985,1)">Cost</text>
<rect x="182.2" y="617.1" width="63.7" height="25.6" fill="#e15759"/>
<rect x="182.2" y="642.4" width="63.7" height="12.7" fill="#59a14f"/>
<rect x="182.2" y="654.8" width="63.7" height="49.2" fill="#f28e2b"/>
<line x1="172.2" y1="617" x2="256.2" y2="617" stroke="#ababab" stroke-width="1.9"/>
<line x1="182.2" y1="617.2" x2="245.9" y2="617.2" stroke="#b0434c" stroke-width="1.5"/>
<text class="lbl" x="174.2" y="611.9">$1.10M</text>
<rect x="267.41" y="623.76" width="63.7" height="25.44" fill="#e15759"/>
<rect x="267.41" y="648.9" width="63.7" height="13.4" fill="#59a14f"/>
<rect x="267.41" y="662" width="63.7" height="42" fill="#f28e2b"/>
<line x1="257.42" y1="623.66" x2="341.42" y2="623.66" stroke="#ababab" stroke-width="1.9"/>
<line x1="267.41" y1="623.86" x2="331.11" y2="623.86" stroke="#b0434c" stroke-width="1.5"/>
<text class="lbl" x="259.46" y="618.56">$1.02M</text>
<rect x="352.62" y="644.92" width="63.7" height="25.28" fill="#e15759"/>
<rect x="352.62" y="669.9" width="63.7" height="12" fill="#59a14f"/>
<rect x="352.62" y="681.6" width="63.7" height="22.4" fill="#f28e2b"/>
<line x1="342.64" y1="644.82" x2="426.64" y2="644.82" stroke="#ababab" stroke-width="1.9"/>
<line x1="352.62" y1="645.02" x2="416.32" y2="645.02" stroke="#b0434c" stroke-width="1.5"/>
<text class="lbl" x="344.73" y="639.72">$0.75M</text>
<rect x="437.83" y="645.77" width="63.7" height="24.43" fill="#e15759"/>
<rect x="437.83" y="669.9" width="63.7" height="12" fill="#59a14f"/>
<rect x="437.83" y="681.6" width="63.7" height="22.4" fill="#f28e2b"/>
<line x1="427.86" y1="645.67" x2="511.86" y2="645.67" stroke="#ababab" stroke-width="1.9"/>
<line x1="437.83" y1="645.87" x2="501.53" y2="645.87" stroke="#b0434c" stroke-width="1.5"/>
<text class="lbl" x="430" y="640.57">$0.74M</text>
<rect x="523.04" y="645.77" width="63.7" height="26.03" fill="#e15759"/>
<rect x="523.04" y="671.5" width="63.7" height="10.7" fill="#59a14f"/>
<rect x="523.04" y="681.9" width="63.7" height="22.1" fill="#f28e2b"/>
<line x1="513.08" y1="645.67" x2="597.08" y2="645.67" stroke="#ababab" stroke-width="1.9"/>
<line x1="523.04" y1="645.87" x2="586.74" y2="645.87" stroke="#b0434c" stroke-width="1.5"/>
<text class="lbl" x="515.26" y="640.57">$0.74M</text>
<rect x="608.25" y="646.72" width="63.7" height="24.58" fill="#e15759"/>
<rect x="608.25" y="671" width="63.7" height="11.8" fill="#59a14f"/>
<rect x="608.25" y="682.5" width="63.7" height="21.5" fill="#f28e2b"/>
<line x1="598.3" y1="646.62" x2="682.3" y2="646.62" stroke="#ababab" stroke-width="1.9"/>
<line x1="608.25" y1="646.82" x2="671.95" y2="646.82" stroke="#b0434c" stroke-width="1.5"/>
<text class="lbl" x="600.52" y="641.51">$0.73M</text>
<rect x="693.46" y="637.02" width="63.7" height="25.27" fill="#e15759"/>
<rect x="693.46" y="662" width="63.7" height="10.9" fill="#59a14f"/>
<rect x="693.46" y="672.6" width="63.7" height="31.4" fill="#f28e2b"/>
<line x1="683.52" y1="636.92" x2="767.52" y2="636.92" stroke="#ababab" stroke-width="1.9"/>
<line x1="693.46" y1="637.12" x2="757.16" y2="637.12" stroke="#b0434c" stroke-width="1.5"/>
<text class="lbl" x="685.79" y="631.82">$0.85M</text>
<rect x="778.67" y="619.74" width="63.7" height="25.67" fill="#e15759"/>
<rect x="778.67" y="645.1" width="63.7" height="10.9" fill="#59a14f"/>
<rect x="778.67" y="655.7" width="63.7" height="48.3" fill="#f28e2b"/>
<line x1="768.74" y1="619.63" x2="852.74" y2="619.63" stroke="#ababab" stroke-width="1.9"/>
<line x1="778.67" y1="619.84" x2="842.37" y2="619.84" stroke="#b0434c" stroke-width="1.5"/>
<text class="lbl" x="771.06" y="614.53">$1.07M</text>
<rect x="863.88" y="641" width="63.7" height="25.6" fill="#e15759"/>
<rect x="863.88" y="665.5" width="63.7" height="1.2" fill="#93783a"/>
<rect x="863.88" y="666.3" width="63.7" height="37.7" fill="#f28e2b"/>
<line x1="853.96" y1="640.9" x2="937.96" y2="640.9" stroke="#ababab" stroke-width="1.9"/>
<line x1="863.88" y1="641.1" x2="927.58" y2="641.1" stroke="#b0434c" stroke-width="1.5"/>
<text class="lbl" x="856.32" y="635.8">$0.80M</text>
<rect x="949.09" y="629.12" width="63.7" height="25.28" fill="#e15759"/>
<rect x="949.09" y="653.3" width="63.7" height="1.2" fill="#93783a"/>
<rect x="949.09" y="654.1" width="63.7" height="49.9" fill="#f28e2b"/>
<line x1="939.18" y1="629.02" x2="1023.18" y2="629.02" stroke="#ababab" stroke-width="1.9"/>
<line x1="949.09" y1="629.23" x2="1012.79" y2="629.23" stroke="#b0434c" stroke-width="1.5"/>
<text class="lbl" x="941.59" y="623.92">$0.95M</text>
<rect x="1034.3" y="621.08" width="63.7" height="25.23" fill="#e15759"/>
<rect x="1034.3" y="645.2" width="63.7" height="1.2" fill="#93783a"/>
<rect x="1034.3" y="646" width="63.7" height="58" fill="#f28e2b"/>
<line x1="1024.4" y1="620.98" x2="1108.4" y2="620.98" stroke="#ababab" stroke-width="1.9"/>
<line x1="1034.3" y1="621.18" x2="1098" y2="621.18" stroke="#b0434c" stroke-width="1.5"/>
<text class="lbl" x="1026.85" y="615.88">$1.05M</text>
<rect x="1119.51" y="621.08" width="63.7" height="25.23" fill="#e15759"/>
<rect x="1119.51" y="645.2" width="63.7" height="1.2" fill="#93783a"/>
<rect x="1119.51" y="646" width="63.7" height="58" fill="#f28e2b"/>
<line x1="1109.62" y1="620.98" x2="1193.62" y2="620.98" stroke="#ababab" stroke-width="1.9"/>
<line x1="1119.51" y1="621.18" x2="1183.21" y2="621.18" stroke="#b0434c" stroke-width="1.5"/>
<text class="lbl" x="1112.12" y="615.88">$1.05M</text>
<rect x="1204.72" y="623.31" width="63.7" height="25.69" fill="#e15759"/>
<rect x="1204.72" y="647.9" width="63.7" height="1.2" fill="#93783a"/>
<rect x="1204.72" y="648.7" width="63.7" height="55.3" fill="#f28e2b"/>
<line x1="1194.84" y1="623.21" x2="1278.84" y2="623.21" stroke="#ababab" stroke-width="1.9"/>
<line x1="1204.72" y1="623.41" x2="1268.42" y2="623.41" stroke="#b0434c" stroke-width="1.5"/>
<text class="lbl" x="1197.38" y="618.11">$1.02M</text>
<rect x="1289.93" y="624.25" width="63.7" height="25.65" fill="#e15759"/>
<rect x="1289.93" y="648.8" width="63.7" height="1.2" fill="#93783a"/>
<rect x="1289.93" y="649.6" width="63.7" height="54.4" fill="#f28e2b"/>
<line x1="1280.06" y1="624.15" x2="1364.06" y2="624.15" stroke="#ababab" stroke-width="1.9"/>
<line x1="1289.93" y1="624.36" x2="1353.63" y2="624.36" stroke="#b0434c" stroke-width="1.5"/>
<text class="lbl" x="1282.64" y="619.05">$1.01M</text>
<rect x="1375.14" y="625.94" width="63.7" height="25.56" fill="#e15759"/>
<rect x="1375.14" y="650.4" width="63.7" height="1.2" fill="#93783a"/>
<rect x="1375.14" y="651.2" width="63.7" height="52.8" fill="#f28e2b"/>
<line x1="1365.28" y1="625.84" x2="1449.28" y2="625.84" stroke="#ababab" stroke-width="1.9"/>
<line x1="1375.14" y1="626.04" x2="1438.84" y2="626.04" stroke="#b0434c" stroke-width="1.5"/>
<text class="lbl" x="1367.91" y="620.74">$0.99M</text>
<rect x="1460.35" y="625.94" width="63.7" height="25.56" fill="#e15759"/>
<rect x="1460.35" y="650.4" width="63.7" height="1.2" fill="#93783a"/>
<rect x="1460.35" y="651.2" width="63.7" height="52.8" fill="#f28e2b"/>
<line x1="1450.5" y1="625.84" x2="1534.5" y2="625.84" stroke="#ababab" stroke-width="1.9"/>
<line x1="1460.35" y1="626.04" x2="1524.05" y2="626.04" stroke="#b0434c" stroke-width="1.5"/>
<text class="lbl" x="1453.17" y="620.74">$0.99M</text>
<rect x="1545.56" y="621.52" width="63.7" height="24.77" fill="#e15759"/>
<rect x="1545.56" y="645.2" width="63.7" height="1.2" fill="#93783a"/>
<rect x="1545.56" y="646" width="63.7" height="58" fill="#f28e2b"/>
<line x1="1535.72" y1="621.42" x2="1619.72" y2="621.42" stroke="#ababab" stroke-width="1.9"/>
<line x1="1545.56" y1="621.62" x2="1609.26" y2="621.62" stroke="#b0434c" stroke-width="1.5"/>
<text class="lbl" x="1538.44" y="616.32">$1.05M</text>
<rect x="1630.77" y="611.38" width="63.7" height="25.61" fill="#e15759"/>
<rect x="1630.77" y="635.9" width="63.7" height="1.2" fill="#93783a"/>
<rect x="1630.77" y="636.7" width="63.7" height="67.3" fill="#f28e2b"/>
<line x1="1620.94" y1="611.28" x2="1704.94" y2="611.28" stroke="#ababab" stroke-width="1.9"/>
<line x1="1630.77" y1="611.49" x2="1694.47" y2="611.49" stroke="#b0434c" stroke-width="1.5"/>
<text class="lbl" x="1623.71" y="606.18">$1.17M</text>
<rect x="1715.98" y="612.68" width="63.7" height="25.92" fill="#e15759"/>
<rect x="1715.98" y="637.5" width="63.7" height="1.2" fill="#93783a"/>
<rect x="1715.98" y="638.3" width="63.7" height="65.7" fill="#f28e2b"/>
<line x1="1706.16" y1="612.58" x2="1790.16" y2="612.58" stroke="#ababab" stroke-width="1.9"/>
<line x1="1715.98" y1="612.78" x2="1779.68" y2="612.78" stroke="#b0434c" stroke-width="1.5"/>
<text class="lbl" x="1708.97" y="607.48">$1.16M</text>
<rect x="1801.19" y="617.2" width="63.7" height="25.5" fill="#e15759"/>
<rect x="1801.19" y="641.6" width="63.7" height="1.2" fill="#93783a"/>
<rect x="1801.19" y="642.4" width="63.7" height="61.6" fill="#f28e2b"/>
<line x1="1791.38" y1="617.1" x2="1875.38" y2="617.1" stroke="#ababab" stroke-width="1.9"/>
<line x1="1801.19" y1="617.3" x2="1864.89" y2="617.3" stroke="#b0434c" stroke-width="1.5"/>
<text class="lbl" x="1794.24" y="612">$1.10M</text>
<g stroke="#eeeeee" stroke-width="1">
<line x1="174.6" y1="819.5" x2="1871.8" y2="819.5"/>
<line x1="174.6" y1="780.5" x2="1871.8" y2="780.5"/>
<line x1="174.6" y1="740.5" x2="1871.8" y2="740.5"/>
</g>
<g transform="translate(163.8,745.1) scale(1.065,1)"><text class="tick" x="0" y="0">$1.50M</text></g>
<g transform="translate(163.8,784.6) scale(1.065,1)"><text class="tick" x="0" y="0">$1.00M</text></g>
<g transform="translate(163.8,824.1) scale(1.065,1)"><text class="tick" x="0" y="0">$0.50M</text></g>
<g transform="translate(163.8,854.8) scale(1.065,1)"><text class="tick" x="0" y="0">$0.00M</text></g>
<g transform="translate(12.1,785.7) scale(0.96,1)"><text class="row" x="0" y="0">VIC</text></g>
<text class="cost" transform="translate(107.4,780.8) rotate(-90) scale(0.985,1)">Cost</text>
<rect x="182.2" y="758.59" width="63.7" height="26.01" fill="#e15759"/>
<rect x="182.2" y="784.3" width="63.7" height="18.1" fill="#59a14f"/>
<rect x="182.2" y="802.1" width="63.7" height="56.9" fill="#f28e2b"/>
<line x1="172.2" y1="758.49" x2="256.2" y2="758.49" stroke="#ababab" stroke-width="1.9"/>
<line x1="182.2" y1="758.69" x2="245.9" y2="758.69" stroke="#b0434c" stroke-width="1.5"/>
<text class="lbl" x="174.2" y="753.38">$1.27M</text>
<rect x="267.41" y="770.41" width="63.7" height="28.19" fill="#e15759"/>
<rect x="267.41" y="798.3" width="63.7" height="19.2" fill="#59a14f"/>
<rect x="267.41" y="817.2" width="63.7" height="41.8" fill="#f28e2b"/>
<line x1="257.42" y1="770.31" x2="341.42" y2="770.31" stroke="#ababab" stroke-width="1.9"/>
<line x1="267.41" y1="770.51" x2="331.11" y2="770.51" stroke="#b0434c" stroke-width="1.5"/>
<text class="lbl" x="259.46" y="765.21">$1.12M</text>
<rect x="352.62" y="785.07" width="63.7" height="28.63" fill="#e15759"/>
<rect x="352.62" y="813.4" width="63.7" height="17.9" fill="#59a14f"/>
<rect x="352.62" y="831" width="63.7" height="28" fill="#f28e2b"/>
<line x1="342.64" y1="784.97" x2="426.64" y2="784.97" stroke="#ababab" stroke-width="1.9"/>
<line x1="352.62" y1="785.17" x2="416.32" y2="785.17" stroke="#b0434c" stroke-width="1.5"/>
<text class="lbl" x="344.73" y="779.87">$0.94M</text>
<rect x="437.83" y="787.15" width="63.7" height="28.54" fill="#e15759"/>
<rect x="437.83" y="815.4" width="63.7" height="11.8" fill="#59a14f"/>
<rect x="437.83" y="826.9" width="63.7" height="32.1" fill="#f28e2b"/>
<line x1="427.86" y1="787.05" x2="511.86" y2="787.05" stroke="#ababab" stroke-width="1.9"/>
<line x1="437.83" y1="787.25" x2="501.53" y2="787.25" stroke="#b0434c" stroke-width="1.5"/>
<text class="lbl" x="430" y="781.95">$0.91M</text>
<rect x="523.04" y="780.5" width="63.7" height="28" fill="#e15759"/>
<rect x="523.04" y="808.2" width="63.7" height="10.9" fill="#59a14f"/>
<rect x="523.04" y="818.8" width="63.7" height="40.2" fill="#f28e2b"/>
<line x1="513.08" y1="780.39" x2="597.08" y2="780.39" stroke="#ababab" stroke-width="1.9"/>
<line x1="523.04" y1="780.6" x2="586.74" y2="780.6" stroke="#b0434c" stroke-width="1.5"/>
<text class="lbl" x="515.26" y="775.29">$0.99M</text>
<rect x="608.25" y="786.31" width="63.7" height="28.29" fill="#e15759"/>
<rect x="608.25" y="814.3" width="63.7" height="11.1" fill="#59a14f"/>
<rect x="608.25" y="825.1" width="63.7" height="33.9" fill="#f28e2b"/>
<line x1="598.3" y1="786.21" x2="682.3" y2="786.21" stroke="#ababab" stroke-width="1.9"/>
<line x1="608.25" y1="786.41" x2="671.95" y2="786.41" stroke="#b0434c" stroke-width="1.5"/>
<text class="lbl" x="600.52" y="781.11">$0.92M</text>
<rect x="693.46" y="780.1" width="63.7" height="28.4" fill="#e15759"/>
<rect x="693.46" y="808.2" width="63.7" height="10.9" fill="#59a14f"/>
<rect x="693.46" y="818.8" width="63.7" height="40.2" fill="#f28e2b"/>
<line x1="683.52" y1="780" x2="767.52" y2="780" stroke="#ababab" stroke-width="1.9"/>
<line x1="693.46" y1="780.2" x2="757.16" y2="780.2" stroke="#b0434c" stroke-width="1.5"/>
<text class="lbl" x="685.79" y="774.9">$1.00M</text>
<rect x="778.67" y="763.21" width="63.7" height="28.39" fill="#e15759"/>
<rect x="778.67" y="791.3" width="63.7" height="10.9" fill="#59a14f"/>
<rect x="778.67" y="801.9" width="63.7" height="57.1" fill="#f28e2b"/>
<line x1="768.74" y1="763.11" x2="852.74" y2="763.11" stroke="#ababab" stroke-width="1.9"/>
<line x1="778.67" y1="763.31" x2="842.37" y2="763.31" stroke="#b0434c" stroke-width="1.5"/>
<text class="lbl" x="771.06" y="758">$1.21M</text>
<rect x="863.88" y="784.62" width="63.7" height="28.38" fill="#e15759"/>
<rect x="863.88" y="811.9" width="63.7" height="1.2" fill="#93783a"/>
<rect x="863.88" y="812.7" width="63.7" height="46.3" fill="#f28e2b"/>
<line x1="853.96" y1="784.52" x2="937.96" y2="784.52" stroke="#ababab" stroke-width="1.9"/>
<line x1="863.88" y1="784.72" x2="927.58" y2="784.72" stroke="#b0434c" stroke-width="1.5"/>
<text class="lbl" x="856.32" y="779.42">$0.94M</text>
<rect x="949.09" y="773.04" width="63.7" height="28.46" fill="#e15759"/>
<rect x="949.09" y="800.4" width="63.7" height="1.2" fill="#93783a"/>
<rect x="949.09" y="801.2" width="63.7" height="57.8" fill="#f28e2b"/>
<line x1="939.18" y1="772.94" x2="1023.18" y2="772.94" stroke="#ababab" stroke-width="1.9"/>
<line x1="949.09" y1="773.14" x2="1012.79" y2="773.14" stroke="#b0434c" stroke-width="1.5"/>
<text class="lbl" x="941.59" y="767.84">$1.09M</text>
<rect x="1034.3" y="764.7" width="63.7" height="28.7" fill="#e15759"/>
<rect x="1034.3" y="792.3" width="63.7" height="1.2" fill="#93783a"/>
<rect x="1034.3" y="793.1" width="63.7" height="65.9" fill="#f28e2b"/>
<line x1="1024.4" y1="764.6" x2="1108.4" y2="764.6" stroke="#ababab" stroke-width="1.9"/>
<line x1="1034.3" y1="764.8" x2="1098" y2="764.8" stroke="#b0434c" stroke-width="1.5"/>
<text class="lbl" x="1026.85" y="759.5">$1.19M</text>
<rect x="1119.51" y="765.14" width="63.7" height="28.85" fill="#e15759"/>
<rect x="1119.51" y="792.9" width="63.7" height="1.2" fill="#93783a"/>
<rect x="1119.51" y="793.7" width="63.7" height="65.3" fill="#f28e2b"/>
<line x1="1109.62" y1="765.04" x2="1193.62" y2="765.04" stroke="#ababab" stroke-width="1.9"/>
<line x1="1119.51" y1="765.25" x2="1183.21" y2="765.25" stroke="#b0434c" stroke-width="1.5"/>
<text class="lbl" x="1112.12" y="759.94">$1.19M</text>
<rect x="1204.72" y="765.54" width="63.7" height="29.36" fill="#e15759"/>
<rect x="1204.72" y="793.8" width="63.7" height="1.2" fill="#93783a"/>
<rect x="1204.72" y="794.6" width="63.7" height="64.4" fill="#f28e2b"/>
<line x1="1194.84" y1="765.44" x2="1278.84" y2="765.44" stroke="#ababab" stroke-width="1.9"/>
<line x1="1204.72" y1="765.64" x2="1268.42" y2="765.64" stroke="#b0434c" stroke-width="1.5"/>
<text class="lbl" x="1197.38" y="760.34">$1.18M</text>
<rect x="1289.93" y="766.38" width="63.7" height="28.51" fill="#e15759"/>
<rect x="1289.93" y="793.8" width="63.7" height="1.2" fill="#93783a"/>
<rect x="1289.93" y="794.6" width="63.7" height="64.4" fill="#f28e2b"/>
<line x1="1280.06" y1="766.28" x2="1364.06" y2="766.28" stroke="#ababab" stroke-width="1.9"/>
<line x1="1289.93" y1="766.49" x2="1353.63" y2="766.49" stroke="#b0434c" stroke-width="1.5"/>
<text class="lbl" x="1282.64" y="761.18">$1.17M</text>
<rect x="1375.14" y="768.17" width="63.7" height="28.82" fill="#e15759"/>
<rect x="1375.14" y="795.9" width="63.7" height="1.2" fill="#93783a"/>
<rect x="1375.14" y="796.7" width="63.7" height="62.3" fill="#f28e2b"/>
<line x1="1365.28" y1="768.07" x2="1449.28" y2="768.07" stroke="#ababab" stroke-width="1.9"/>
<line x1="1375.14" y1="768.27" x2="1438.84" y2="768.27" stroke="#b0434c" stroke-width="1.5"/>
<text class="lbl" x="1367.91" y="762.97">$1.15M</text>
<rect x="1460.35" y="769.57" width="63.7" height="28.34" fill="#e15759"/>
<rect x="1460.35" y="796.8" width="63.7" height="1.2" fill="#93783a"/>
<rect x="1460.35" y="797.6" width="63.7" height="61.4" fill="#f28e2b"/>
<line x1="1450.5" y1="769.47" x2="1534.5" y2="769.47" stroke="#ababab" stroke-width="1.9"/>
<line x1="1460.35" y1="769.67" x2="1524.05" y2="769.67" stroke="#b0434c" stroke-width="1.5"/>
<text class="lbl" x="1453.17" y="764.37">$1.13M</text>
<rect x="1545.56" y="763.21" width="63.7" height="29" fill="#e15759"/>
<rect x="1545.56" y="791.1" width="63.7" height="1.2" fill="#93783a"/>
<rect x="1545.56" y="791.9" width="63.7" height="67.1" fill="#f28e2b"/>
<line x1="1535.72" y1="763.11" x2="1619.72" y2="763.11" stroke="#ababab" stroke-width="1.9"/>
<line x1="1545.56" y1="763.31" x2="1609.26" y2="763.31" stroke="#b0434c" stroke-width="1.5"/>
<text class="lbl" x="1538.44" y="758">$1.21M</text>
<rect x="1630.77" y="752.27" width="63.7" height="28.43" fill="#e15759"/>
<rect x="1630.77" y="779.6" width="63.7" height="1.2" fill="#93783a"/>
<rect x="1630.77" y="780.4" width="63.7" height="78.6" fill="#f28e2b"/>
<line x1="1620.94" y1="752.17" x2="1704.94" y2="752.17" stroke="#ababab" stroke-width="1.9"/>
<line x1="1630.77" y1="752.38" x2="1694.47" y2="752.38" stroke="#b0434c" stroke-width="1.5"/>
<text class="lbl" x="1623.71" y="747.07">$1.35M</text>
<rect x="1715.98" y="750.93" width="63.7" height="28.86" fill="#e15759"/>
<rect x="1715.98" y="778.7" width="63.7" height="1.2" fill="#93783a"/>
<rect x="1715.98" y="779.5" width="63.7" height="79.5" fill="#f28e2b"/>
<line x1="1706.16" y1="750.83" x2="1790.16" y2="750.83" stroke="#ababab" stroke-width="1.9"/>
<line x1="1715.98" y1="751.03" x2="1779.68" y2="751.03" stroke="#b0434c" stroke-width="1.5"/>
<text class="lbl" x="1708.97" y="745.73">$1.37M</text>
<rect x="1801.19" y="755.3" width="63.7" height="28.8" fill="#e15759"/>
<rect x="1801.19" y="783" width="63.7" height="1.2" fill="#93783a"/>
<rect x="1801.19" y="783.8" width="63.7" height="75.2" fill="#f28e2b"/>
<line x1="1791.38" y1="755.2" x2="1875.38" y2="755.2" stroke="#ababab" stroke-width="1.9"/>
<line x1="1801.19" y1="755.4" x2="1864.89" y2="755.4" stroke="#b0434c" stroke-width="1.5"/>
<text class="lbl" x="1794.24" y="750.1">$1.31M</text>
<g stroke="#eeeeee" stroke-width="1">
<line x1="174.6" y1="973.5" x2="1871.8" y2="973.5"/>
<line x1="174.6" y1="934.5" x2="1871.8" y2="934.5"/>
<line x1="174.6" y1="894.5" x2="1871.8" y2="894.5"/>
</g>
<g transform="translate(163.8,899.1) scale(1.065,1)"><text class="tick" x="0" y="0">$1.50M</text></g>
<g transform="translate(163.8,938.6) scale(1.065,1)"><text class="tick" x="0" y="0">$1.00M</text></g>
<g transform="translate(163.8,978.1) scale(1.065,1)"><text class="tick" x="0" y="0">$0.50M</text></g>
<g transform="translate(163.8,1008.8) scale(1.065,1)"><text class="tick" x="0" y="0">$0.00M</text></g>
<g transform="translate(12.1,940.2) scale(1.05,1)"><text class="row" x="0" y="0">WA (WEM)</text></g>
<text class="cost" transform="translate(107.4,935.3) rotate(-90) scale(0.985,1)">Cost</text>
<rect x="182.2" y="947.57" width="63.7" height="16.74" fill="#e15759"/>
<rect x="182.2" y="964" width="63.7" height="13.2" fill="#59a14f"/>
<rect x="182.2" y="976.9" width="63.7" height="34.6" fill="#f28e2b"/>
<rect x="182.2" y="1011.5" width="63.7" height="1.5" fill="#f0b942"/>
<line x1="172.2" y1="947.47" x2="256.2" y2="947.47" stroke="#ababab" stroke-width="1.9"/>
<line x1="182.2" y1="947.67" x2="245.9" y2="947.67" stroke="#b0434c" stroke-width="1.5"/>
<text class="lbl" x="174.2" y="942.37">$0.83M</text>
<rect x="267.41" y="948.8" width="63.7" height="17.5" fill="#e15759"/>
<rect x="267.41" y="966" width="63.7" height="13.2" fill="#59a14f"/>
<rect x="267.41" y="978.9" width="63.7" height="32.6" fill="#f28e2b"/>
<rect x="267.41" y="1011.5" width="63.7" height="1.5" fill="#f0b942"/>
<line x1="257.42" y1="948.7" x2="341.42" y2="948.7" stroke="#ababab" stroke-width="1.9"/>
<line x1="267.41" y1="948.9" x2="331.11" y2="948.9" stroke="#b0434c" stroke-width="1.5"/>
<text class="lbl" x="259.46" y="943.6">$0.81M</text>
<rect x="352.62" y="947.57" width="63.7" height="16.74" fill="#e15759"/>
<rect x="352.62" y="964" width="63.7" height="12" fill="#59a14f"/>
<rect x="352.62" y="975.7" width="63.7" height="35.8" fill="#f28e2b"/>
<rect x="352.62" y="1011.5" width="63.7" height="1.5" fill="#f0b942"/>
<line x1="342.64" y1="947.47" x2="426.64" y2="947.47" stroke="#ababab" stroke-width="1.9"/>
<line x1="352.62" y1="947.67" x2="416.32" y2="947.67" stroke="#b0434c" stroke-width="1.5"/>
<text class="lbl" x="344.73" y="942.37">$0.83M</text>
<rect x="437.83" y="947.96" width="63.7" height="17.44" fill="#e15759"/>
<rect x="437.83" y="965.1" width="63.7" height="10.9" fill="#59a14f"/>
<rect x="437.83" y="975.7" width="63.7" height="35.8" fill="#f28e2b"/>
<rect x="437.83" y="1011.5" width="63.7" height="1.5" fill="#f0b942"/>
<line x1="427.86" y1="947.86" x2="511.86" y2="947.86" stroke="#ababab" stroke-width="1.9"/>
<line x1="437.83" y1="948.06" x2="501.53" y2="948.06" stroke="#b0434c" stroke-width="1.5"/>
<text class="lbl" x="430" y="942.76">$0.82M</text>
<rect x="523.04" y="948.8" width="63.7" height="17.5" fill="#e15759"/>
<rect x="523.04" y="966" width="63.7" height="11.2" fill="#59a14f"/>
<rect x="523.04" y="976.9" width="63.7" height="34.6" fill="#f28e2b"/>
<rect x="523.04" y="1011.5" width="63.7" height="1.5" fill="#f0b942"/>
<line x1="513.08" y1="948.7" x2="597.08" y2="948.7" stroke="#ababab" stroke-width="1.9"/>
<line x1="523.04" y1="948.9" x2="586.74" y2="948.9" stroke="#b0434c" stroke-width="1.5"/>
<text class="lbl" x="515.26" y="943.6">$0.81M</text>
<rect x="608.25" y="948.8" width="63.7" height="16.6" fill="#e15759"/>
<rect x="608.25" y="965.1" width="63.7" height="12.1" fill="#59a14f"/>
<rect x="608.25" y="976.9" width="63.7" height="34.6" fill="#f28e2b"/>
<rect x="608.25" y="1011.5" width="63.7" height="1.5" fill="#f0b942"/>
<line x1="598.3" y1="948.7" x2="682.3" y2="948.7" stroke="#ababab" stroke-width="1.9"/>
<line x1="608.25" y1="948.9" x2="671.95" y2="948.9" stroke="#b0434c" stroke-width="1.5"/>
<text class="lbl" x="600.52" y="943.6">$0.81M</text>
<rect x="693.46" y="949.8" width="63.7" height="16.5" fill="#e15759"/>
<rect x="693.46" y="966" width="63.7" height="11.2" fill="#59a14f"/>
<rect x="693.46" y="976.9" width="63.7" height="34.6" fill="#f28e2b"/>
<rect x="693.46" y="1011.5" width="63.7" height="1.5" fill="#f0b942"/>
<line x1="683.52" y1="949.7" x2="767.52" y2="949.7" stroke="#ababab" stroke-width="1.9"/>
<line x1="693.46" y1="949.9" x2="757.16" y2="949.9" stroke="#b0434c" stroke-width="1.5"/>
<text class="lbl" x="685.79" y="944.6">$0.80M</text>
<rect x="778.67" y="949.8" width="63.7" height="16.5" fill="#e15759"/>
<rect x="778.67" y="966" width="63.7" height="11.2" fill="#59a14f"/>
<rect x="778.67" y="976.9" width="63.7" height="34.6" fill="#f28e2b"/>
<rect x="778.67" y="1011.5" width="63.7" height="1.5" fill="#f0b942"/>
<line x1="768.74" y1="949.7" x2="852.74" y2="949.7" stroke="#ababab" stroke-width="1.9"/>
<line x1="778.67" y1="949.9" x2="842.37" y2="949.9" stroke="#b0434c" stroke-width="1.5"/>
<text class="lbl" x="771.06" y="944.6">$0.80M</text>
<rect x="863.88" y="960.13" width="63.7" height="17.66" fill="#e15759"/>
<rect x="863.88" y="976.7" width="63.7" height="1.2" fill="#93783a"/>
<rect x="863.88" y="977.5" width="63.7" height="34" fill="#f28e2b"/>
<rect x="863.88" y="1011.5" width="63.7" height="1.5" fill="#f0b942"/>
<line x1="853.96" y1="960.03" x2="937.96" y2="960.03" stroke="#ababab" stroke-width="1.9"/>
<line x1="863.88" y1="960.24" x2="927.58" y2="960.24" stroke="#b0434c" stroke-width="1.5"/>
<text class="lbl" x="856.32" y="954.93">$0.67M</text>
<rect x="949.09" y="958.75" width="63.7" height="17.05" fill="#e15759"/>
<rect x="949.09" y="974.7" width="63.7" height="1.2" fill="#93783a"/>
<rect x="949.09" y="975.5" width="63.7" height="36" fill="#f28e2b"/>
<rect x="949.09" y="1011.5" width="63.7" height="1.5" fill="#f0b942"/>
<line x1="939.18" y1="958.64" x2="1023.18" y2="958.64" stroke="#ababab" stroke-width="1.9"/>
<line x1="949.09" y1="958.85" x2="1012.79" y2="958.85" stroke="#b0434c" stroke-width="1.5"/>
<text class="lbl" x="941.59" y="953.54">$0.69M</text>
<rect x="1034.3" y="957.8" width="63.7" height="16.7" fill="#e15759"/>
<rect x="1034.3" y="973.4" width="63.7" height="1.2" fill="#93783a"/>
<rect x="1034.3" y="974.2" width="63.7" height="37.3" fill="#f28e2b"/>
<rect x="1034.3" y="1011.5" width="63.7" height="1.5" fill="#f0b942"/>
<line x1="1024.4" y1="957.7" x2="1108.4" y2="957.7" stroke="#ababab" stroke-width="1.9"/>
<line x1="1034.3" y1="957.9" x2="1098" y2="957.9" stroke="#b0434c" stroke-width="1.5"/>
<text class="lbl" x="1026.85" y="952.6">$0.70M</text>
<rect x="1119.51" y="957.8" width="63.7" height="16.7" fill="#e15759"/>
<rect x="1119.51" y="973.4" width="63.7" height="1.2" fill="#93783a"/>
<rect x="1119.51" y="974.2" width="63.7" height="37.3" fill="#f28e2b"/>
<rect x="1119.51" y="1011.5" width="63.7" height="1.5" fill="#f0b942"/>
<line x1="1109.62" y1="957.7" x2="1193.62" y2="957.7" stroke="#ababab" stroke-width="1.9"/>
<line x1="1119.51" y1="957.9" x2="1183.21" y2="957.9" stroke="#b0434c" stroke-width="1.5"/>
<text class="lbl" x="1112.12" y="952.6">$0.70M</text>
<rect x="1204.72" y="956.96" width="63.7" height="17.55" fill="#e15759"/>
<rect x="1204.72" y="973.4" width="63.7" height="1.2" fill="#93783a"/>
<rect x="1204.72" y="974.2" width="63.7" height="37.3" fill="#f28e2b"/>
<rect x="1204.72" y="1011.5" width="63.7" height="1.5" fill="#f0b942"/>
<line x1="1194.84" y1="956.86" x2="1278.84" y2="956.86" stroke="#ababab" stroke-width="1.9"/>
<line x1="1204.72" y1="957.06" x2="1268.42" y2="957.06" stroke="#b0434c" stroke-width="1.5"/>
<text class="lbl" x="1197.38" y="951.75">$0.71M</text>
<rect x="1289.93" y="955.62" width="63.7" height="17.29" fill="#e15759"/>
<rect x="1289.93" y="971.8" width="63.7" height="1.2" fill="#93783a"/>
<rect x="1289.93" y="972.6" width="63.7" height="38.9" fill="#f28e2b"/>
<rect x="1289.93" y="1011.5" width="63.7" height="1.5" fill="#f0b942"/>
<line x1="1280.06" y1="955.51" x2="1364.06" y2="955.51" stroke="#ababab" stroke-width="1.9"/>
<line x1="1289.93" y1="955.72" x2="1353.63" y2="955.72" stroke="#b0434c" stroke-width="1.5"/>
<text class="lbl" x="1282.64" y="950.41">$0.73M</text>
<rect x="1375.14" y="955.01" width="63.7" height="17.89" fill="#e15759"/>
<rect x="1375.14" y="971.8" width="63.7" height="1.2" fill="#93783a"/>
<rect x="1375.14" y="972.6" width="63.7" height="38.9" fill="#f28e2b"/>
<rect x="1375.14" y="1011.5" width="63.7" height="1.5" fill="#f0b942"/>
<line x1="1365.28" y1="954.91" x2="1449.28" y2="954.91" stroke="#ababab" stroke-width="1.9"/>
<line x1="1375.14" y1="955.12" x2="1438.84" y2="955.12" stroke="#b0434c" stroke-width="1.5"/>
<text class="lbl" x="1367.91" y="949.81">$0.73M</text>
<rect x="1460.35" y="956.86" width="63.7" height="16.54" fill="#e15759"/>
<rect x="1460.35" y="972.3" width="63.7" height="1.2" fill="#93783a"/>
<rect x="1460.35" y="973.1" width="63.7" height="38.4" fill="#f28e2b"/>
<rect x="1460.35" y="1011.5" width="63.7" height="1.5" fill="#f0b942"/>
<line x1="1450.5" y1="956.75" x2="1534.5" y2="956.75" stroke="#ababab" stroke-width="1.9"/>
<line x1="1460.35" y1="956.96" x2="1524.05" y2="956.96" stroke="#b0434c" stroke-width="1.5"/>
<text class="lbl" x="1453.17" y="951.65">$0.71M</text>
<rect x="1545.56" y="955.86" width="63.7" height="17.54" fill="#e15759"/>
<rect x="1545.56" y="972.3" width="63.7" height="1.2" fill="#93783a"/>
<rect x="1545.56" y="973.1" width="63.7" height="38.4" fill="#f28e2b"/>
<rect x="1545.56" y="1011.5" width="63.7" height="1.5" fill="#f0b942"/>
<line x1="1535.72" y1="955.76" x2="1619.72" y2="955.76" stroke="#ababab" stroke-width="1.9"/>
<line x1="1545.56" y1="955.96" x2="1609.26" y2="955.96" stroke="#b0434c" stroke-width="1.5"/>
<text class="lbl" x="1538.44" y="950.66">$0.72M</text>
<rect x="1630.77" y="956.46" width="63.7" height="16.94" fill="#e15759"/>
<rect x="1630.77" y="972.3" width="63.7" height="1.2" fill="#93783a"/>
<rect x="1630.77" y="973.1" width="63.7" height="38.4" fill="#f28e2b"/>
<rect x="1630.77" y="1011.5" width="63.7" height="1.5" fill="#f0b942"/>
<line x1="1620.94" y1="956.36" x2="1704.94" y2="956.36" stroke="#ababab" stroke-width="1.9"/>
<line x1="1630.77" y1="956.56" x2="1694.47" y2="956.56" stroke="#b0434c" stroke-width="1.5"/>
<text class="lbl" x="1623.71" y="951.26">$0.72M</text>
<rect x="1715.98" y="956.86" width="63.7" height="16.54" fill="#e15759"/>
<rect x="1715.98" y="972.3" width="63.7" height="1.2" fill="#93783a"/>
<rect x="1715.98" y="973.1" width="63.7" height="38.4" fill="#f28e2b"/>
<rect x="1715.98" y="1011.5" width="63.7" height="1.5" fill="#f0b942"/>
<line x1="1706.16" y1="956.75" x2="1790.16" y2="956.75" stroke="#ababab" stroke-width="1.9"/>
<line x1="1715.98" y1="956.96" x2="1779.68" y2="956.96" stroke="#b0434c" stroke-width="1.5"/>
<text class="lbl" x="1708.97" y="951.65">$0.71M</text>
<rect x="1801.19" y="956.86" width="63.7" height="16.54" fill="#e15759"/>
<rect x="1801.19" y="972.3" width="63.7" height="1.2" fill="#93783a"/>
<rect x="1801.19" y="973.1" width="63.7" height="38.4" fill="#f28e2b"/>
<rect x="1801.19" y="1011.5" width="63.7" height="1.5" fill="#f0b942"/>
<line x1="1791.38" y1="956.75" x2="1875.38" y2="956.75" stroke="#ababab" stroke-width="1.9"/>
<line x1="1801.19" y1="956.96" x2="1864.89" y2="956.96" stroke="#b0434c" stroke-width="1.5"/>
<text class="lbl" x="1794.24" y="951.65">$0.71M</text>
<g transform="translate(213.45,1027.5) scale(1.11,1)"><text class="yr" x="0" y="0">2023</text></g>
<g transform="translate(298.66,1027.5) scale(1.11,1)"><text class="yr" x="0" y="0">2024</text></g>
<g transform="translate(383.87,1027.5) scale(1.11,1)"><text class="yr" x="0" y="0">2025</text></g>
<g transform="translate(469.08,1027.5) scale(1.11,1)"><text class="yr" x="0" y="0">2026</text></g>
<g transform="translate(554.29,1027.5) scale(1.11,1)"><text class="yr" x="0" y="0">2027</text></g>
<g transform="translate(639.5,1027.5) scale(1.11,1)"><text class="yr" x="0" y="0">2028</text></g>
<g transform="translate(724.71,1027.5) scale(1.11,1)"><text class="yr" x="0" y="0">2029</text></g>
<g transform="translate(809.92,1027.5) scale(1.11,1)"><text class="yr" x="0" y="0">2030</text></g>
<g transform="translate(895.13,1027.5) scale(1.11,1)"><text class="yr" x="0" y="0">2031</text></g>
<g transform="translate(980.34,1027.5) scale(1.11,1)"><text class="yr" x="0" y="0">2032</text></g>
<g transform="translate(1065.55,1027.5) scale(1.11,1)"><text class="yr" x="0" y="0">2033</text></g>
<g transform="translate(1150.76,1027.5) scale(1.11,1)"><text class="yr" x="0" y="0" style="fill:#444">2034</text></g>
<g transform="translate(1235.97,1027.5) scale(1.11,1)"><text class="yr" x="0" y="0">2035</text></g>
<g transform="translate(1321.18,1027.5) scale(1.11,1)"><text class="yr" x="0" y="0">2036</text></g>
<g transform="translate(1406.39,1027.5) scale(1.11,1)"><text class="yr" x="0" y="0">2037</text></g>
<g transform="translate(1491.6,1027.5) scale(1.11,1)"><text class="yr" x="0" y="0">2038</text></g>
<g transform="translate(1576.81,1027.5) scale(1.11,1)"><text class="yr" x="0" y="0">2039</text></g>
<g transform="translate(1662.02,1027.5) scale(1.11,1)"><text class="yr" x="0" y="0">2040</text></g>
<g transform="translate(1747.23,1027.5) scale(1.11,1)"><text class="yr" x="0" y="0">2041</text></g>
<g transform="translate(1832.44,1027.5) scale(1.11,1)"><text class="yr" x="0" y="0">2042</text></g>
</svg>
</body></html>
